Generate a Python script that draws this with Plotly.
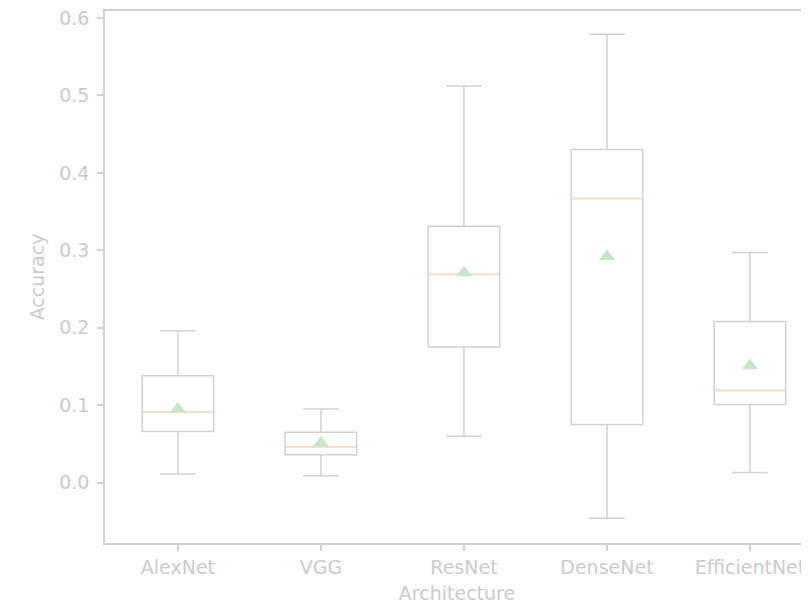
import plotly.graph_objects as go

architectures = ["AlexNet", "VGG", "ResNet", "DenseNet", "EfficientNet"]
positions = [1, 2, 3, 4, 5]
lower_whisker = [0.011, 0.009, 0.060, -0.046, 0.013]
q1 = [0.066, 0.036, 0.175, 0.075, 0.101]
median = [0.091, 0.046, 0.269, 0.367, 0.119]
q3 = [0.138, 0.065, 0.331, 0.430, 0.208]
upper_whisker = [0.196, 0.095, 0.512, 0.579, 0.297]
mean = [0.095, 0.051, 0.271, 0.292, 0.151]

BOX_W = 0.5
LINE = "#d2d2d2"
TEXT = "#cccccc"
MED = "#ffdfc4"
MEAN = "#c6e6c8"
FONT = "DejaVu Sans"

fig = go.Figure()
fig.add_trace(go.Box(
    x=positions, q1=q1, median=median, q3=q3,
    lowerfence=lower_whisker, upperfence=upper_whisker,
    width=BOX_W, whiskerwidth=0.5, boxpoints=False,
    fillcolor="rgba(0,0,0,0)", line=dict(color=LINE, width=1.5),
    showlegend=False, hoverinfo="skip",
))
# medians
for p, m in zip(positions, median):
    fig.add_trace(go.Scatter(
        x=[p - BOX_W / 2 + 0.01, p + BOX_W / 2 - 0.01], y=[m, m], mode="lines",
        line=dict(color=MED, width=1.8), showlegend=False, hoverinfo="skip",
    ))
fig.add_trace(go.Scatter(
    x=positions, y=mean, mode="markers",
    marker=dict(symbol="triangle-up", size=14, color=MEAN),
    showlegend=False, hoverinfo="skip",
))

# page body has an 8px default margin, so the figure is sized to fit the window
fig.update_layout(
    width=801, height=597,
    margin=dict(l=97, r=0, t=3, b=62),
    plot_bgcolor="white", paper_bgcolor="white",
    font=dict(family=FONT, size=19, color=TEXT),
)
fig.update_xaxes(
    range=[0.49, 5.413], tickvals=positions, ticktext=architectures,
    automargin=False, ticklabeloverflow="allow",
    showline=True, linecolor=LINE, linewidth=1.5, mirror=True,
    ticks="outside", ticklen=6, tickcolor=LINE, tickwidth=1.5,
    showgrid=False, zeroline=False,
    title=dict(text="Architecture", standoff=10, font=dict(size=19, color=TEXT)),
    tickfont=dict(size=19, color=TEXT),
)
fig.update_yaxes(
    range=[-0.078, 0.609], tickvals=[0.0, 0.1, 0.2, 0.3, 0.4, 0.5, 0.6],
    ticktext=["0.0", "0.1", "0.2", "0.3", "0.4", "0.5", "0.6"],
    automargin=False, ticklabelstandoff=4, ticklabeloverflow="allow",
    showline=True, linecolor=LINE, linewidth=1.5, mirror=False,
    ticks="outside", ticklen=6, tickcolor=LINE, tickwidth=1.5,
    showgrid=False, zeroline=False,
    title=dict(text="Accuracy", standoff=10, font=dict(size=19, color=TEXT)),
    tickfont=dict(size=19, color=TEXT),
)

fig.write_html("out.html")
